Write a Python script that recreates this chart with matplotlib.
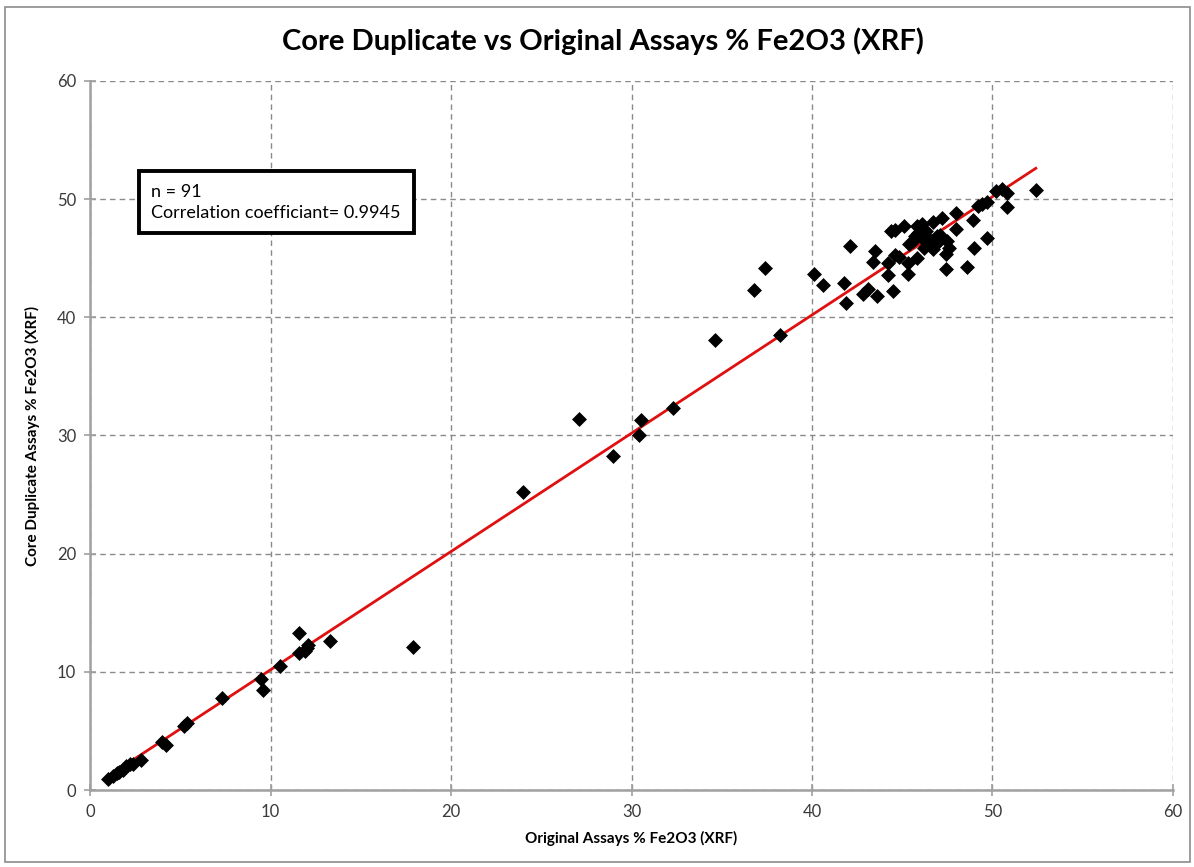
import numpy as np
import matplotlib
matplotlib.use("Agg")
import matplotlib.pyplot as plt
from matplotlib.patches import Rectangle

plt.rcParams['font.family'] = ['Lato', 'DejaVu Sans']

# Original assay (x) vs core duplicate (y), % Fe2O3 by XRF
original = [
    1.0, 1.3, 1.5, 1.6, 1.8, 2.0, 2.2, 2.4, 2.8, 4.0, 4.2, 5.2, 5.4, 7.3,
    9.5, 9.6, 10.5, 11.6, 11.6, 11.9, 12.0, 12.1, 13.3, 17.9, 24.0, 27.1,
    29.0, 30.4, 30.5, 32.3, 34.6, 36.8, 37.4, 38.2, 40.1, 40.6, 41.8, 41.9,
    42.1, 42.8, 43.1, 43.6, 43.5, 43.4, 44.5, 44.2, 44.2, 44.6, 44.8, 45.3,
    45.3, 45.8, 44.4, 44.6, 45.1, 45.8, 46.1, 46.7, 47.2, 48.0, 48.9, 48.0,
    45.9, 45.6, 45.4, 46.1, 46.4, 46.6, 46.9, 47.1, 46.7, 47.5, 47.6, 47.4,
    49.0, 48.6, 47.4, 49.7, 49.2, 49.4, 49.7, 50.2, 50.5, 50.8, 50.8, 52.4,
    46.3, 45.7, 46.5, 47.0, 46.2,
]
duplicate = [
    0.9, 1.2, 1.4, 1.5, 1.7, 2.0, 2.2, 2.2, 2.5, 4.1, 3.8, 5.4, 5.7, 7.8,
    9.4, 8.5, 10.5, 13.3, 11.6, 11.8, 12.0, 12.3, 12.6, 12.1, 25.2, 31.4,
    28.3, 30.0, 31.3, 32.3, 38.1, 42.3, 44.2, 38.5, 43.7, 42.7, 42.9, 41.2,
    46.0, 42.0, 42.4, 41.8, 45.6, 44.7, 42.2, 43.6, 44.6, 45.3, 45.1, 43.7,
    44.6, 45.0, 47.3, 47.4, 47.7, 47.7, 47.9, 48.1, 48.4, 48.8, 48.2, 47.5,
    47.1, 46.5, 46.2, 46.7, 46.2, 46.2, 46.9, 47.0, 45.8, 46.5, 45.9, 45.4,
    45.9, 44.3, 44.1, 46.7, 49.4, 49.6, 49.8, 50.7, 50.9, 50.5, 49.3, 50.8,
    47.3, 46.9, 46.6, 46.4, 45.9,
]

n_samples = 91
correlation = 0.9945
axis_ticks = [0, 10, 20, 30, 40, 50, 60]

x = np.array(original)
y = np.array(duplicate)

fig = plt.figure(figsize=(11.94, 8.67), dpi=100)
ax = fig.add_axes([0.0754, 0.0888, 0.9070, 0.8178])

# chart-area frame
fig.patches.append(Rectangle((0.004, 0.006), 0.993, 0.986, transform=fig.transFigure,
                             fill=False, edgecolor='#8c8c8c', linewidth=1.2))

ax.set_xlim(0, 60)
ax.set_ylim(0, 60)
ax.set_xticks(axis_ticks)
ax.set_yticks(axis_ticks)
ax.grid(True, linestyle=(0, (4, 3)), color='#8a8a8a', linewidth=1.0)
ax.set_axisbelow(True)

for side in ('top', 'right'):
    ax.spines[side].set_visible(False)
for side in ('left', 'bottom'):
    ax.spines[side].set_color('#a0a0a0')
    ax.spines[side].set_linewidth(1.8)

ax.tick_params(axis='both', direction='inout', length=8, width=1.2, color='#a0a0a0',
               labelsize=12, labelcolor='#3a3a3a', pad=6)

# linear trendline through the samples
slope, intercept = np.polyfit(x, y, 1)
xs = np.array([x.min(), x.max()])
ax.plot(xs, slope * xs + intercept, color='#e01010', linewidth=2.0, zorder=2)

ax.scatter(x, y, marker='D', s=58, color='black', zorder=3, linewidths=0)

ax.set_xlabel('Original Assays % Fe2O3 (XRF)', fontsize=11, fontweight='bold', labelpad=8)
ax.set_ylabel('Core Duplicate Assays % Fe2O3 (XRF)', fontsize=11, fontweight='bold', labelpad=12)
fig.text(0.505, 0.952, 'Core Duplicate vs Original Assays % Fe2O3 (XRF)', ha='center',
         va='center', fontsize=21, fontweight='bold')

ax.text(3.4, 49.75, f'n = {n_samples}\nCorrelation coefficiant= {correlation}', fontsize=13,
        va='center', ha='left', linespacing=1.4, zorder=5,
        bbox=dict(boxstyle='square,pad=0.7', facecolor='white', edgecolor='black', linewidth=2.8))

fig.savefig('out.png', dpi=100)
